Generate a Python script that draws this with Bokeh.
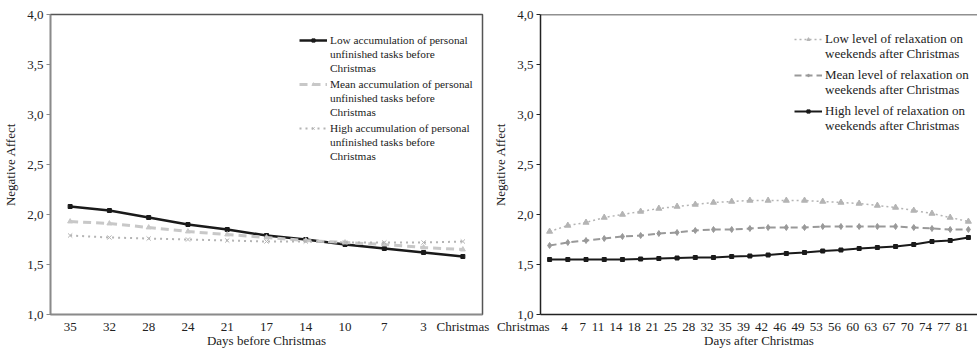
from bokeh.plotting import figure
from bokeh.layouts import row
from bokeh.models import (FixedTicker, CustomJSTickFormatter, Range1d, FactorRange, Span,
                          Legend, LegendItem)
from bokeh.embed import file_html
from bokeh.resources import INLINE

FONT = "Liberation Serif"

days_before = ["35", "32", "28", "24", "21", "17", "14", "10", "7", "3", "Christmas"]
low_accum = [2.08, 2.04, 1.97, 1.90, 1.85, 1.79, 1.75, 1.70, 1.66, 1.62, 1.58]
mean_accum = [1.93, 1.91, 1.87, 1.83, 1.80, 1.77, 1.74, 1.72, 1.70, 1.67, 1.65]
high_accum = [1.79, 1.77, 1.76, 1.75, 1.74, 1.73, 1.73, 1.72, 1.72, 1.72, 1.73]

days_after = ["Christmas", "4", "7", "11", "14", "18", "21", "25", "28", "32", "35", "39",
              "42", "46", "49", "53", "56", "60", "63", "67", "70", "74", "77", "81"]
low_relax = [1.83, 1.89, 1.92, 1.97, 2.00, 2.03, 2.06, 2.08, 2.10, 2.12, 2.13, 2.14,
             2.14, 2.14, 2.14, 2.13, 2.12, 2.11, 2.09, 2.07, 2.04, 2.01, 1.97, 1.93]
mean_relax = [1.69, 1.72, 1.74, 1.76, 1.78, 1.79, 1.81, 1.82, 1.84, 1.85, 1.85, 1.86,
              1.87, 1.87, 1.87, 1.88, 1.88, 1.88, 1.88, 1.88, 1.87, 1.86, 1.85, 1.85]
high_relax = [1.55, 1.55, 1.55, 1.55, 1.55, 1.555, 1.56, 1.565, 1.57, 1.57, 1.58, 1.585,
              1.595, 1.61, 1.62, 1.635, 1.645, 1.66, 1.67, 1.68, 1.70, 1.73, 1.74, 1.77]

legend_left = [
    ["Low accumulation of personal", "unfinished tasks before", "Christmas"],
    ["Mean accumulation of personal", "unfinished tasks before", "Christmas"],
    ["High accumulation of personal", "unfinished tasks before", "Christmas"],
]
legend_right = [
    ["Low level of relaxation on", "weekends after Christmas"],
    ["Mean level of relaxation on", "weekends after Christmas"],
    ["High level of relaxation on", "weekends after Christmas"],
]

y_ticks = [1.0, 1.5, 2.0, 2.5, 3.0, 3.5, 4.0]
fmt = CustomJSTickFormatter(code="return tick.toFixed(1).replace('.', ',');")


def style_axis(ax, color):
    ax.axis_line_color = color
    ax.axis_line_width = 1.5
    ax.major_label_text_font = FONT
    ax.major_label_text_font_size = "13px"
    ax.major_label_text_color = "#222222"
    ax.axis_label_text_font = FONT
    ax.axis_label_text_font_size = "13px"
    ax.axis_label_text_font_style = "normal"
    ax.axis_label_text_color = "#222222"
    ax.minor_tick_line_color = None


def base_fig(x_range, width, left, right, axis_color, xlabel):
    p = figure(x_range=x_range, y_range=Range1d(1, 4),
               width=width, height=356, output_backend="svg", toolbar_location=None,
               min_border_left=left, min_border_right=right, min_border_top=14,
               min_border_bottom=42)
    p.grid.visible = False
    p.yaxis.ticker = FixedTicker(ticks=y_ticks)
    p.yaxis.formatter = fmt
    style_axis(p.xaxis[0], axis_color)
    style_axis(p.yaxis[0], axis_color)
    p.xaxis.major_tick_line_color = None
    p.xaxis.major_tick_out = 0
    p.xaxis.major_tick_in = 0
    p.xaxis.major_label_standoff = 4
    p.xaxis.axis_label_standoff = -4
    p.xaxis.axis_label = xlabel
    p.yaxis.axis_label = "Negative Affect"
    p.yaxis.major_tick_out = 4
    p.yaxis.major_tick_in = 0
    p.yaxis.major_tick_line_color = axis_color
    p.yaxis.major_label_standoff = 3
    p.yaxis.axis_label_standoff = 6
    return p


def legend_line(p, text, renderers, loc, size, label_h):
    lg = Legend(items=[LegendItem(label=text, renderers=renderers)], location=loc,
                border_line_color=None, background_fill_alpha=0, inactive_fill_alpha=0,
                label_text_font=FONT, label_text_font_size=size, label_text_color="#222222",
                padding=0, margin=0, spacing=0, glyph_width=28, glyph_height=8,
                label_height=label_h, label_standoff=3)
    p.add_layout(lg)


# Left panel
p1 = base_fig(FactorRange(*days_before, range_padding=0), 490, 44, 8, "#8a8a8a",
              "Days before Christmas")
p1.outline_line_color = "#555555"
p1.outline_line_width = 1.5
r_low = [p1.line(days_before, low_accum, line_color="#1a1a1a", line_width=2.5),
         p1.scatter(days_before, low_accum, marker="square", size=4, color="#1a1a1a")]
r_mean = [p1.line(days_before, mean_accum, line_color="#c8c8c8", line_width=3, line_dash="8 5"),
          p1.scatter(days_before, mean_accum, marker="triangle", size=5, color="#c8c8c8")]
r_high = [p1.line(days_before, high_accum, line_color="#b4b4b4", line_width=2, line_dash="2 4"),
          p1.scatter(days_before, high_accum, marker="x", size=6, line_color="#b4b4b4")]
for k, (lines, rs) in enumerate(zip(legend_left, (r_low, r_mean, r_high))):
    for j, text in enumerate(lines):
        legend_line(p1, text, rs if j == 0 else [], (249, 267 - 44 * k - 14 * j), "11.3px", 14)

# Right panel (numeric positions at the centre of each category slot)
xs = [i + 0.5 for i in range(len(days_after))]
p2 = base_fig(Range1d(0, len(days_after)), 487, 48, 0, "#222222", "Days after Christmas")
p2.outline_line_color = None
p2.add_layout(Span(location=4, dimension="width", line_color="#222222", line_width=1.5))
p2.xaxis.ticker = FixedTicker(ticks=xs)
p2.xaxis.major_label_overrides = {x: d for x, d in zip(xs, days_after)}
# a practically horizontal orientation makes Bokeh right-align the labels on their ticks
p2.xaxis.major_label_orientation = 0.0001
p2.xaxis.major_label_standoff = 12
p2.xaxis.axis_label_standoff = -12
r_lr = [p2.line(xs, low_relax, line_color="#b4b4b4", line_width=1.5, line_dash="2 3"),
        p2.scatter(xs, low_relax, marker="triangle", size=6, color="#b4b4b4")]
r_mr = [p2.line(xs, mean_relax, line_color="#999999", line_width=2, line_dash="7 4"),
        p2.scatter(xs, mean_relax, marker="diamond", size=6, color="#999999")]
r_hr = [p2.line(xs, high_relax, line_color="#1a1a1a", line_width=2),
        p2.scatter(xs, high_relax, marker="square", size=4, color="#1a1a1a")]
for k, (lines, rs) in enumerate(zip(legend_right, (r_lr, r_mr, r_hr))):
    for j, text in enumerate(lines):
        legend_line(p2, text, rs if j == 0 else [], (254, 267 - 36 * k - 15 * j), "13px", 8)

layout = row(p1, p2, spacing=0)
open("out.html", "w").write(file_html(layout, INLINE))
